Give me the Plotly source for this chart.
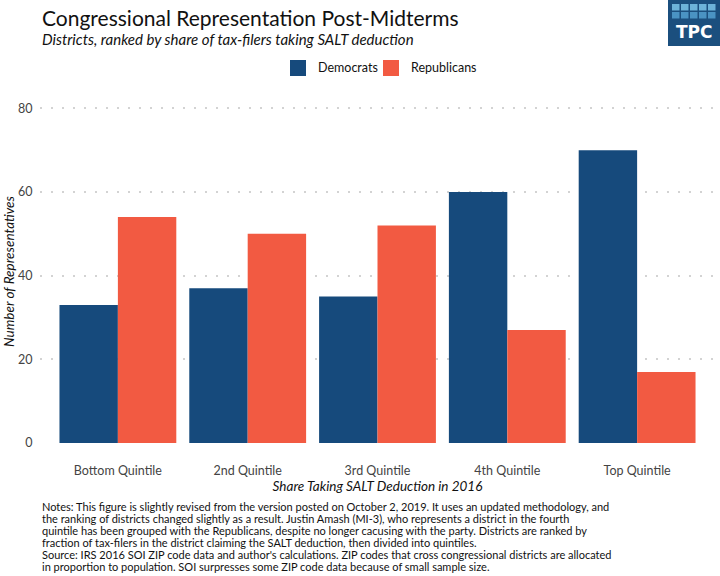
import plotly.graph_objects as go

categories = ["Bottom Quintile", "2nd Quintile", "3rd Quintile", "4th Quintile", "Top Quintile"]
democrats = [33, 37, 35, 60, 70]
republicans = [54, 50, 52, 27, 17]
y_ticks = [0, 20, 40, 60, 80]
series_names = ["Democrats", "Republicans"]

D_COLOR = "#164A7C"
R_COLOR = "#F25A42"
FONT = "Lato"

# plot area in pixels: x 40..715, y 100..443
L, R_, T, B = 40, 715, 100, 443
W, H = 720, 576
PW, PH = R_ - L, B - T


def px(x):
    return (x - L) / PW


def py(y):
    return (B - y) / PH


fig = go.Figure()
fig.add_trace(go.Bar(x=categories, y=democrats, name=series_names[0], marker_color=D_COLOR,
                     marker_line_width=0))
fig.add_trace(go.Bar(x=categories, y=republicans, name=series_names[1], marker_color=R_COLOR,
                     marker_line_width=0))

note_lines = [
    "Notes: This figure is slightly revised from the version posted on October 2, 2019. It uses an updated methodology, and",
    "the ranking of districts changed slightly as a result. Justin Amash (MI-3), who represents a district in the fourth",
    "quintile has been grouped with the Republicans, despite no longer cacusing with the party. Districts are ranked by",
    "fraction of tax-filers in the district claiming the SALT deduction, then divided into quintiles.",
    "Source: IRS 2016 SOI ZIP code data and author's calculations. ZIP codes that cross congressional districts are allocated",
    "in proportion to population. SOI surpresses some ZIP code data because of small sample size.",
]

annotations = [
    dict(text="Congressional Representation Post-Midterms", x=px(40), y=py(17), xref="paper", yref="paper",
         xanchor="left", yanchor="middle", showarrow=False, font=dict(family=FONT, size=21, color="#111111")),
    dict(text="<i>Districts, ranked by share of tax-filers taking SALT deduction</i>", x=px(40), y=py(39),
         xref="paper", yref="paper", xanchor="left", yanchor="middle", showarrow=False,
         font=dict(family=FONT, size=15, color="#111111")),
    dict(text="<b>TPC</b>", x=px(694), y=py(32), xref="paper", yref="paper", xanchor="center", yanchor="middle",
         showarrow=False, font=dict(family="DejaVu Sans", size=17, color="white")),
]
for i, line in enumerate(note_lines):
    annotations.append(dict(text=line, x=px(40), y=py(506.5 + i * 12), xref="paper", yref="paper",
                            xanchor="left", yanchor="middle", showarrow=False,
                            font=dict(family=FONT, size=11, color="#111111")))

shapes = [dict(type="rect", xref="paper", yref="paper", x0=px(668), x1=px(720), y0=py(0), y1=py(46),
               fillcolor="#1B4F7E", line=dict(width=0), layer="above")]
for r in range(2):
    for c in range(5):
        x0 = 672 + c * 9
        y0 = 4 + r * 8
        shapes.append(dict(type="rect", xref="paper", yref="paper", x0=px(x0), x1=px(x0 + 7.5),
                           y0=py(y0), y1=py(y0 + 6.5),
                           fillcolor="#6DB3D9" if r == 0 else "#4A93C3", line=dict(width=0), layer="above"))

# legend drawn manually (larger keys)
legend_items = [(series_names[0], D_COLOR, 290), (series_names[1], R_COLOR, 383)]
for name, color, x0 in legend_items:
    shapes.append(dict(type="rect", xref="paper", yref="paper", x0=px(x0), x1=px(x0 + 16),
                       y0=py(60), y1=py(76), fillcolor=color, line=dict(width=0)))
    annotations.append(dict(text=name, x=px(x0 + 26), y=py(68), xref="paper", yref="paper",
                            xanchor="left", yanchor="middle", showarrow=False,
                            font=dict(family=FONT, size=12.5, color="#111111")))

fig.update_layout(
    width=W, height=H,
    margin=dict(l=L, r=W - R_, t=T, b=H - B),
    paper_bgcolor="white", plot_bgcolor="white",
    barmode="group", bargap=0.1, bargroupgap=0,
    showlegend=False,
    font=dict(family=FONT, size=12, color="#444444"),
    xaxis=dict(showgrid=False, ticks="outside", ticklen=16, tickcolor="rgba(0,0,0,0)", showline=False,
               tickfont=dict(size=12.5, color="#444444"),
               range=[-0.6, 4.6],
               title=dict(text="<i>Share Taking SALT Deduction in 2016</i>", standoff=1,
                          font=dict(size=13.5, color="#111111"))),
    yaxis=dict(range=[0, 82], tickvals=y_ticks, showgrid=True, gridcolor="#D3D3D3", gridwidth=2,
               griddash="2px,9px", zeroline=False, showline=False, ticks="outside", ticklen=4,
               tickcolor="rgba(0,0,0,0)",
               tickfont=dict(size=12.5, color="#444444"),
               title=dict(text="<i>Number of Representatives</i>", standoff=0,
                          font=dict(size=13.5, color="#111111"))),
    annotations=annotations,
    shapes=shapes,
)

fig.write_html("out.html", config={"displayModeBar": False},
               post_script="document.body.style.margin='0';")
